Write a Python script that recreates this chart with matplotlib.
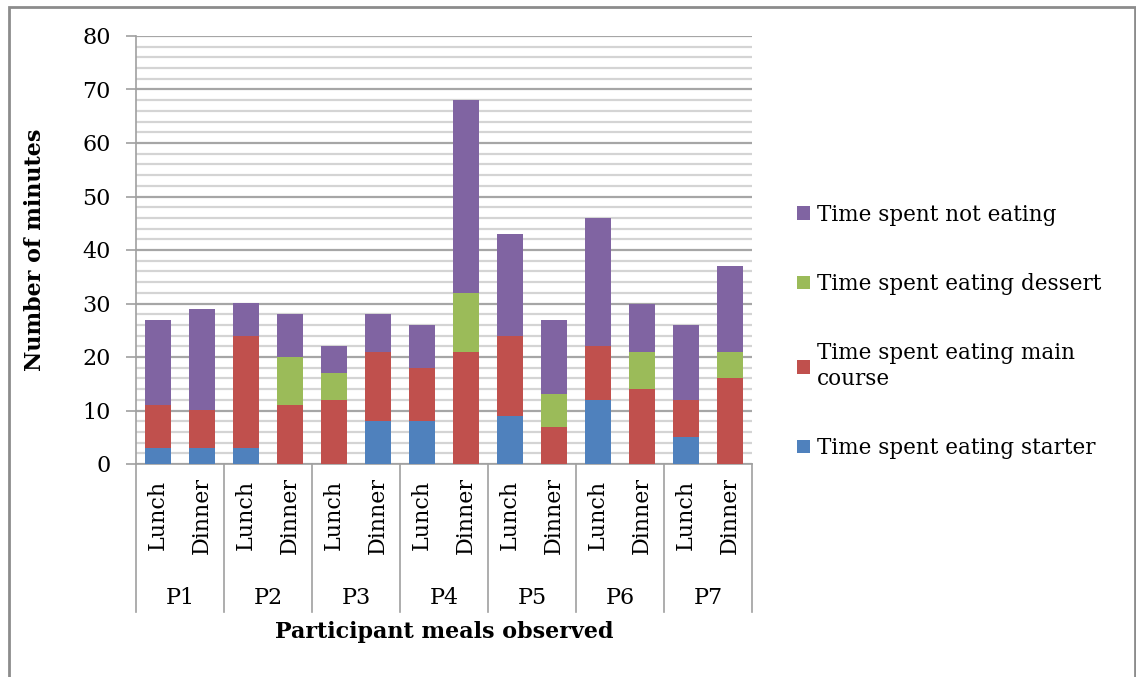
import numpy as np
import matplotlib.pyplot as plt
from matplotlib.patches import Rectangle
import matplotlib.transforms as mtransforms

plt.rcParams['font.family'] = ['DejaVu Serif']

participants = ['P1', 'P2', 'P3', 'P4', 'P5', 'P6', 'P7']
meals = ['Lunch', 'Dinner']

# minutes per meal, order: P1 Lunch, P1 Dinner, P2 Lunch, ...
starter = [3, 3, 3, 0, 0, 8, 8, 0, 9, 0, 12, 0, 5, 0]
main_course = [8, 7, 21, 11, 12, 13, 10, 21, 15, 7, 10, 14, 7, 16]
dessert = [0, 0, 0, 9, 5, 0, 0, 11, 0, 6, 0, 7, 0, 5]
not_eating = [16, 19, 6, 8, 5, 7, 8, 36, 19, 14, 24, 9, 14, 16]

series = [
    ('Time spent eating starter', starter, '#4F81BD'),
    ('Time spent eating main\ncourse', main_course, '#C0504D'),
    ('Time spent eating dessert', dessert, '#9BBB59'),
    ('Time spent not eating', not_eating, '#8064A2'),
]

fig = plt.figure(figsize=(11.36, 6.77), dpi=100)
ax = fig.add_axes([136 / 1136, 1 - 464 / 677, 616 / 1136, 428 / 677])

x = np.arange(len(starter))
bottom = np.zeros(len(starter))
handles = []
for name, vals, col in series:
    b = ax.bar(x, vals, 0.57, bottom=bottom, color=col, label=name, zorder=3)
    handles.append(b)
    bottom += np.array(vals)

ax.set_xlim(-0.5, len(starter) - 0.5)
ax.set_ylim(0, 80)
ax.set_yticks(np.arange(0, 81, 10))
ax.set_yticks(np.arange(0, 81, 2), minor=True)
ax.grid(which='minor', axis='y', color='#d4d4d4', lw=1.6, zorder=0)
ax.grid(which='major', axis='y', color='#a6a6a6', lw=1.6, zorder=1)
ax.tick_params(axis='y', which='major', labelsize=16, length=7, color='#a0a0a0', width=1.2, pad=11)
ax.tick_params(axis='y', which='minor', length=0)
ax.tick_params(axis='x', length=0, labelbottom=False)

for s in ['top', 'right']:
    ax.spines[s].set_visible(False)
for s in ['left', 'bottom']:
    ax.spines[s].set_color('#a0a0a0')
    ax.spines[s].set_linewidth(1.2)

# two-level category axis
trans = mtransforms.blended_transform_factory(ax.transData, ax.transAxes)
for i in range(len(participants) + 1):
    ax.plot([i * 2 - 0.5, i * 2 - 0.5], [0, -148 / 428], transform=trans,
            color='#a0a0a0', lw=1.2, clip_on=False)
for i in x:
    ax.text(i, -51 / 428, meals[i % 2], transform=trans, rotation=90,
            ha='center', va='center', fontsize=16)
for j, p in enumerate(participants):
    ax.text(j * 2 + 0.5, -134 / 428, p, transform=trans,
            ha='center', va='center', fontsize=16)

ax.set_xlabel('Participant meals observed', fontsize=16, fontweight='bold', labelpad=113)
ax.set_ylabel('Number of minutes', fontsize=16, fontweight='bold', labelpad=26)

fig.legend(handles[::-1], [h.get_label() for h in handles[::-1]],
           loc='upper left', bbox_to_anchor=(788 / 1136, 1 - 195 / 677),
           frameon=False, fontsize=15.5, handlelength=0.6, handleheight=0.6,
           handletextpad=0.35, labelspacing=2.2, borderaxespad=0)

fig.patches.append(Rectangle((9 / 1136, -0.02), 1126 / 1136, 1.02 - 7 / 677,
                             transform=fig.transFigure, fill=False,
                             edgecolor='#8c8c8c', lw=2))

fig.savefig('out.png', dpi=100)
